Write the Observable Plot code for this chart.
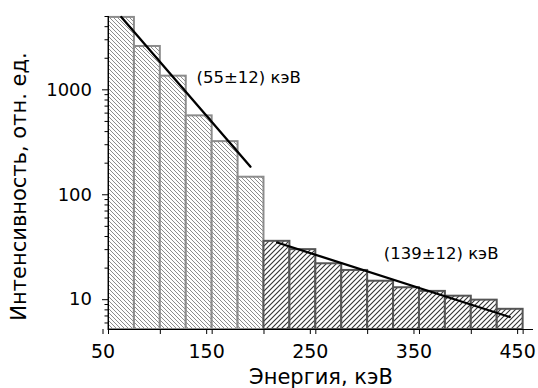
<!DOCTYPE html>
<html>
<head>
<meta charset="utf-8">
<script src="https://cdn.jsdelivr.net/npm/d3@7"></script>
<script src="https://cdn.jsdelivr.net/npm/@observablehq/plot@0.6"></script>
<style>
  html, body { margin: 0; padding: 0; background: #fff; }
  #chart svg { display: block; }
</style>
</head>
<body>
<svg width="0" height="0" style="position:absolute">
  <defs>
    <pattern id="hatchA" patternUnits="userSpaceOnUse" width="4" height="4">
      <rect width="4" height="4" fill="#fff"></rect>
      <path d="M-1,-1L5,5M3,-1L5,1M-1,3L1,5" stroke="#8c8c8c" stroke-width="1"></path>
    </pattern>
    <pattern id="hatchB" patternUnits="userSpaceOnUse" width="5" height="5">
      <rect width="5" height="5" fill="#fff"></rect>
      <path d="M-1,6L6,-1M-1,1L1,-1M4,6L6,4" stroke="#333" stroke-width="1.1"></path>
    </pattern>
  </defs>
</svg>
<div id="chart"></div>
<script>
// Bin starts (keV) and intensities, bin width 25 keV
const binWidth = 25;
const energyLow = [50, 75, 100, 125, 150, 175];
const intensityLow = [4900, 2590, 1350, 565, 321, 147];
const energyHigh = [200, 225, 250, 275, 300, 325, 350, 375, 400, 425];
const intensityHigh = [36, 30, 22, 19, 15, 13, 12, 10.8, 9.9, 8.1];

// Fitted exponential lines (end points)
const fit1Energy = [62.3, 187];
const fit1Intensity = [4943, 185];
const fit2Energy = [212.7, 437.1];
const fit2Intensity = [35.1, 6.84];

const fit1Label = "(55±12) кэВ";
const fit2Label = "(139±12) кэВ";
const xLabel = "Энергия, кэВ";
const yLabel = "Интенсивность, отн. ед.";

const xTicksMajor = [50, 100, 150, 200, 250, 300, 350, 400, 450];
const xTickLabels = [50, 150, 250, 350, 450];
const yTickLabels = [10, 100, 1000];
const yTicksMinor = [6, 7, 8, 9, 20, 30, 40, 50, 60, 70, 80, 90, 200, 300, 400, 500, 600, 700, 800, 900, 2000, 3000, 4000, 5000];

const yMin = 5.2, yMax = 5000;

const low = energyLow.map((e, i) => ({e0: e, e1: e + binWidth, v: intensityLow[i]}));
const high = energyHigh.map((e, i) => ({e0: e, e1: e + binWidth, v: intensityHigh[i]}));
const fit1 = fit1Energy.map((e, i) => ({e, v: fit1Intensity[i]}));
const fit2 = fit2Energy.map((e, i) => ({e, v: fit2Intensity[i]}));

const chart = Plot.plot({
  width: 538,
  height: 388,
  marginLeft: 108,
  marginRight: 5,
  marginTop: 16,
  marginBottom: 59,
  style: {fontFamily: "DejaVu Sans", color: "black", background: "white"},
  x: {domain: [50, 460], label: null},
  y: {type: "log", domain: [yMin, yMax], label: null},
  marks: [
    Plot.rect(low, {x1: "e0", x2: "e1", y1: yMin, y2: "v", fill: "url(#hatchA)", stroke: "#8c8c8c", strokeWidth: 2}),
    Plot.rect(high, {x1: "e0", x2: "e1", y1: yMin, y2: "v", fill: "url(#hatchB)", stroke: "#555", strokeWidth: 2}),
    Plot.line(fit1, {x: "e", y: "v", stroke: "black", strokeWidth: 2.3}),
    Plot.line(fit2, {x: "e", y: "v", stroke: "black", strokeWidth: 2.3}),
    Plot.text([fit1Label], {x: 135, y: 1302, text: d => d, textAnchor: "start", lineAnchor: "middle", fontSize: 16.5, fill: "black"}),
    Plot.text([fit2Label], {x: 315.5, y: 27.7, text: d => d, textAnchor: "start", lineAnchor: "middle", fontSize: 16.5, fill: "black"}),
    Plot.ruleX([50], {stroke: "black", strokeWidth: 1}),
    Plot.ruleY([yMin], {stroke: "black", strokeWidth: 1}),
    Plot.axisX(xTicksMajor, {anchor: "bottom", tickSize: 5, color: "black", tickFormat: () => "", label: null}),
    Plot.axisX(xTickLabels, {anchor: "bottom", tickSize: 5, tickPadding: 10, fontSize: 19, color: "black", dx: -5.5, tickFormat: d => String(d), label: null}),
    Plot.axisY(yTicksMinor, {anchor: "left", tickSize: 3.5, color: "black", tickFormat: () => "", label: null}),
    Plot.axisY(yTickLabels, {anchor: "left", tickSize: 6, tickPadding: 10.5, fontSize: 18, color: "black", tickFormat: d => String(d), label: null}),
    Plot.text([xLabel], {frameAnchor: "bottom", dy: 40, lineAnchor: "top", text: d => d, fontSize: 21, fill: "black"}),
    Plot.text([yLabel], {frameAnchor: "left", dx: -82.5, dy: 13.5, rotate: -90, textAnchor: "middle", lineAnchor: "bottom", text: d => d, fontSize: 21, fill: "black"})
  ]
});
document.getElementById("chart").appendChild(chart);
</script>
</body>
</html>
